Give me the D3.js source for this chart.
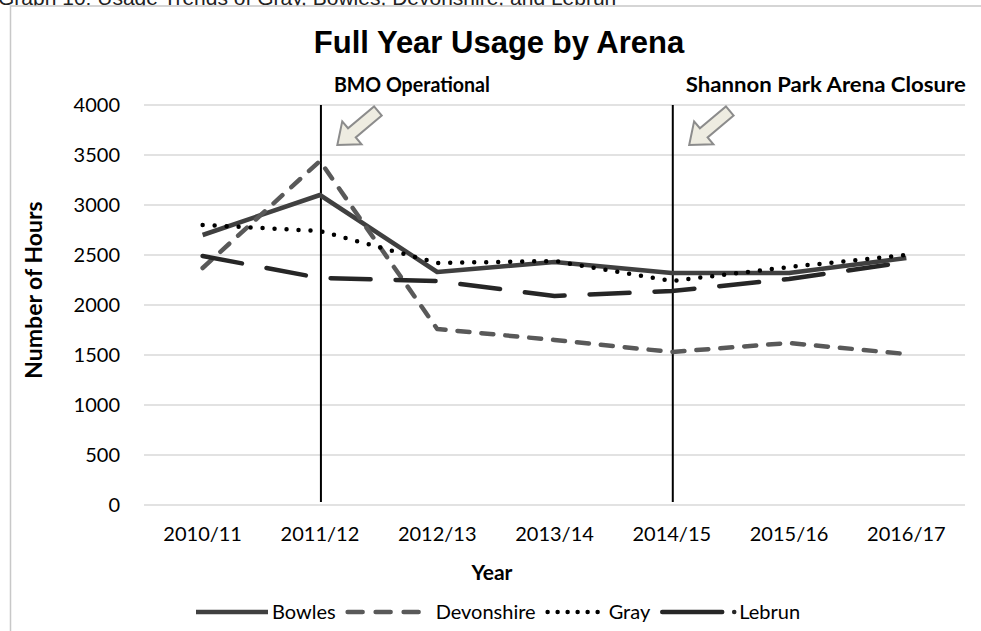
<!DOCTYPE html>
<html>
<head>
<meta charset="utf-8">
<script src="https://cdn.jsdelivr.net/npm/d3@7"></script>
<style>
  body { margin: 0; background: #fff; }
  svg { display: block; }
</style>
</head>
<body>
<div class="chart"></div>
<script>
var years = [`2010/11`, `2011/12`, `2012/13`, `2013/14`, `2014/15`, `2015/16`, `2016/17`];
var bowles = [2700, 3100, 2330, 2430, 2320, 2320, 2470];
var devonshire = [2370, 3440, 1760, 1650, 1530, 1620, 1510];
var gray = [2800, 2740, 2420, 2440, 2240, 2380, 2500];
var lebrun = [2490, 2270, 2240, 2090, 2140, 2260, 2430];
var yTicks = [0, 500, 1000, 1500, 2000, 2500, 3000, 3500, 4000];
var events = [
    {year: `2011/12`, label: `BMO Operational`, len: 156},
    {year: `2014/15`, label: `Shannon Park Arena Closure`, len: 280}
];

var fullWidth = 981, fullHeight = 631;
var margin = {top: 105, bottom: 126, left: 144, right: 16};
var width = fullWidth - margin.left - margin.right;
var height = fullHeight - margin.top - margin.bottom;

var font = `Lato, "Open Sans", sans-serif`;

var svg = d3.select(`.chart`)
    .append(`svg`)
    .attr(`width`, fullWidth)
    .attr(`height`, fullHeight);

// caption of the page, cut off by the crop as in the source
svg.append(`text`)
    .attr(`x`, -2)
    .attr(`y`, 5)
    .style(`font-family`, `"Liberation Sans", Arial, sans-serif`)
    .style(`font-size`, `21px`)
    .style(`fill`, `#222`)
    .text(`Graph 10: Usage Trends of Gray, Bowles, Devonshire, and Lebrun`);

// chart frame
svg.append(`rect`)
    .attr(`x`, 10.5)
    .attr(`y`, 6)
    .attr(`width`, fullWidth)
    .attr(`height`, fullHeight)
    .style(`fill`, `#fff`)
    .style(`stroke`, `#c8c8c8`)
    .style(`stroke-width`, 1.5);

svg.append(`text`)
    .attr(`x`, 499)
    .attr(`y`, 53)
    .attr(`text-anchor`, `middle`)
    .style(`font-family`, `"Liberation Sans", Arial, sans-serif`)
    .style(`font-weight`, `bold`)
    .style(`font-size`, `31px`)
    .text(`Full Year Usage by Arena`);

var g = svg.append(`g`)
    .attr(`transform`, `translate(${margin.left},${margin.top})`);

var yScale = d3.scaleLinear()
    .domain([0, 4000])
    .range([height, 0]);

var xScale = d3.scaleBand()
    .domain(years)
    .range([0, width]);

var cx = d => xScale(d) + xScale.bandwidth() / 2;

// gridlines
g.append(`g`)
    .selectAll(`line`)
    .data(yTicks)
    .enter()
    .append(`line`)
    .attr(`x1`, 0)
    .attr(`x2`, width)
    .attr(`y1`, d => yScale(d))
    .attr(`y2`, d => yScale(d))
    .style(`stroke`, `#d9d9d9`)
    .style(`stroke-width`, 1.5);

var yAxis = d3.axisLeft(yScale)
    .tickValues(yTicks)
    .tickFormat(d3.format(`d`))
    .tickSize(0)
    .tickPadding(24);
g.append(`g`)
    .call(yAxis)
    .call(a => a.select(`.domain`).remove())
    .selectAll(`text`)
    .style(`font-family`, font)
    .style(`font-size`, `20px`)
    .style(`fill`, `#000`);

var xAxis = d3.axisBottom(xScale).tickSize(0).tickPadding(22);
g.append(`g`)
    .attr(`transform`, `translate(0, ${height})`)
    .call(xAxis)
    .call(a => a.select(`.domain`).remove())
    .selectAll(`text`)
    .style(`font-family`, font)
    .style(`font-size`, `20px`)
    .style(`fill`, `#000`);

svg.append(`text`)
    .attr(`x`, 492)
    .attr(`y`, 580)
    .attr(`text-anchor`, `middle`)
    .style(`font-family`, font)
    .style(`font-weight`, `bold`)
    .style(`font-size`, `21px`)
    .text(`Year`);

svg.append(`text`)
    .attr(`transform`, `translate(42, 290) rotate(-90)`)
    .attr(`text-anchor`, `middle`)
    .style(`font-family`, font)
    .style(`font-weight`, `bold`)
    .style(`font-size`, `23px`)
    .text(`Number of Hours`);

// event markers
var ev = g.append(`g`).selectAll(`g`)
    .data(events)
    .enter()
    .append(`g`);

ev.append(`line`)
    .attr(`x1`, d => cx(d.year) + 1)
    .attr(`x2`, d => cx(d.year) + 1)
    .attr(`y1`, yScale(4000))
    .attr(`y2`, yScale(0) - 3)
    .style(`stroke`, `#000`)
    .style(`stroke-width`, 2);

ev.append(`text`)
    .attr(`x`, d => cx(d.year) + 14)
    .attr(`y`, yScale(4000) - 13)
    .attr(`textLength`, d => d.len)
    .attr(`lengthAdjust`, `spacingAndGlyphs`)
    .style(`font-family`, font)
    .style(`font-weight`, `bold`)
    .style(`font-size`, `21px`)
    .text(d => d.label);

// block arrows pointing down-left at the marker lines
var arrowShape = [[0, -6], [34, -6], [34, -15], [53, 0], [34, 15], [34, 6], [0, 6]];
ev.append(`polygon`)
    .attr(`points`, arrowShape.map(p => p.join(`,`)).join(` `))
    .attr(`transform`, d => `translate(${cx(d.year) + 58},${yScale(3600) - 34}) rotate(140)`)
    .style(`fill`, `#eeece1`)
    .style(`stroke`, `#8c8c8c`)
    .style(`stroke-width`, 2)
    .style(`stroke-linejoin`, `miter`);

var series = [
    {name: `Bowles`, values: bowles, color: `#404040`, dash: null, legendDash: null, sample: 72, pad: 4},
    {name: `Devonshire`, values: devonshire, color: `#595959`, dash: `12,12`, legendDash: `15,13`, sample: 78, pad: 10},
    {name: `Gray`, values: gray, color: `#000`, dash: `0,12`, legendDash: `0,10`, sample: 52, pad: 9},
    {name: `Lebrun`, values: lebrun, color: `#262626`, dash: `40,25`, legendDash: null, sample: 60, pad: 4}
];

var line = d3.line()
    .x((d, i) => cx(years[i]))
    .y(d => yScale(d));

g.append(`g`).selectAll(`path`)
    .data(series)
    .enter()
    .append(`path`)
    .attr(`d`, d => line(d.values))
    .style(`fill`, `none`)
    .style(`stroke`, d => d.color)
    .style(`stroke-width`, 4.5)
    .style(`stroke-linecap`, d => d.dash ? `round` : `butt`)
    .style(`stroke-linejoin`, `round`)
    .style(`stroke-dasharray`, d => d.dash);

// legend, laid out left to right from the measured text widths
var legend = svg.append(`g`);
var lx = 196, ly = 612;
series.forEach(function(s) {
    var item = legend.append(`g`);
    item.append(`line`)
        .attr(`x1`, lx)
        .attr(`x2`, lx + s.sample)
        .attr(`y1`, ly)
        .attr(`y2`, ly)
        .style(`stroke`, s.color)
        .style(`stroke-width`, 4.5)
        .style(`stroke-linecap`, s.dash ? `round` : `butt`)
        .style(`stroke-dasharray`, s.legendDash);
    lx += s.sample + s.pad;
    if (s.name === `Lebrun`) {
        item.append(`circle`)
            .attr(`cx`, lx + 8)
            .attr(`cy`, ly)
            .attr(`r`, 2.3)
            .style(`fill`, s.color);
        lx += 13;
    }
    var t = item.append(`text`)
        .attr(`x`, lx)
        .attr(`y`, ly + 7)
        .style(`font-family`, font)
        .style(`font-size`, `20px`)
        .text(s.name);
    lx += t.node().getComputedTextLength() + 12;
});
</script>
</body>
</html>
